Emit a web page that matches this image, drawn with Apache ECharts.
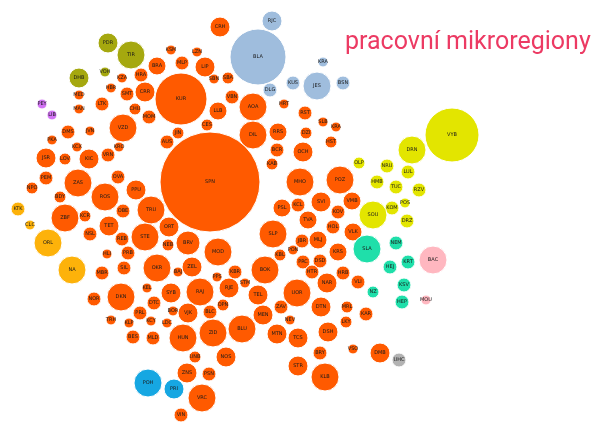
<!DOCTYPE html>
<html>
<head>
<meta charset="utf-8">
<script src="https://cdn.jsdelivr.net/npm/echarts@6/dist/echarts.min.js"></script>
<style>
  html, body { margin: 0; padding: 0; background: #fff; }
  #chart { width: 594px; height: 422px; }
</style>
</head>
<body>
<div id="chart"></div>
<script>
// pracovni mikroregiony - bubbles [name, x, y, r]
const olive = [
    ['PDR', 108, 43, 10], ['TIR', 131, 55, 14], ['DHB', 79, 78, 10], ['VOH', 105, 72, 5],
];
const violet = [
    ['PEY', 42, 104, 5], ['LIB', 52, 115, 5],
];
const lightBlue = [
    ['RJC', 272, 21, 10], ['BLA', 258, 57, 28], ['KRA', 323, 62, 5], ['KUS', 293, 83, 7],
    ['JES', 317, 86, 14], ['BSN', 343, 83, 7], ['DLG', 270, 90, 7],
];
const yellow = [
    ['VYB', 452, 135, 27], ['DRN', 412, 150, 14], ['OLP', 359, 163, 6], ['NRU', 387, 166, 7],
    ['LUL', 408, 172, 7], ['HMB', 377, 182, 7], ['TUC', 396, 187, 7], ['RZV', 419, 190, 7],
    ['POS', 405, 203, 5], ['KOM', 392, 208, 7], ['DRZ', 407, 221, 7], ['SOU', 373, 215, 14],
];
const amber = [
    ['KTK', 18, 209, 7], ['CLC', 30, 225, 5], ['ORL', 48, 243, 14], ['NA', 72, 270, 14],
];
const teal = [
    ['NEM', 396, 243, 7], ['SLA', 367, 249, 14], ['HEJ', 390, 267, 7], ['KRT', 408, 262, 7],
    ['NZ', 373, 292, 6], ['KSV', 404, 285, 7], ['HEP', 402, 302, 7],
];
const pink = [
    ['BAC', 433, 260, 14], ['MOU', 426, 300, 5],
];
const blue = [
    ['POH', 148, 383, 14], ['PRI', 174, 389, 10],
];
const grey = [
    ['UHC', 399, 360, 7],
];
const orange = [
    ['KSM', 171, 50, 5], ['LZN', 197, 52, 5], ['BRA', 157, 66, 9], ['MLP', 182, 63, 7],
    ['LIP', 205, 67, 10], ['CRH', 220, 27, 10], ['SBN', 214, 79, 5], ['SBA', 228, 78, 6],
    ['KZA', 122, 78, 5], ['HRA', 141, 75, 7], ['HBR', 111, 88, 5], ['SMT', 127, 94, 7],
    ['CRR', 145, 92, 10], ['KUR', 181, 99, 26], ['MED', 79, 95, 5], ['LTK', 102, 104, 7],
    ['CHU', 135, 109, 6], ['MAN', 79, 109, 5], ['MOM', 149, 117, 7], ['VZD', 123, 128, 14],
    ['JIN', 178, 133, 6], ['DMS', 68, 132, 7], ['JVN', 90, 131, 5], ['PKA', 52, 140, 5],
    ['AUS', 167, 142, 7], ['VBN', 232, 97, 7], ['AOA', 253, 107, 14], ['LLB', 218, 111, 9],
    ['CES', 207, 125, 6], ['DIL', 253, 135, 14], ['RRS', 278, 132, 9], ['HRT', 284, 104, 5],
    ['RST', 305, 113, 7], ['SLB', 323, 122, 5], ['KRA', 336, 127, 5], ['DZI', 306, 133, 6],
    ['HST', 331, 142, 6], ['BCR', 277, 150, 7], ['OCH', 303, 152, 10], ['KAB', 272, 164, 6],
    ['SPN', 210, 182, 50], ['MHO', 300, 182, 14], ['POZ', 340, 180, 14], ['PSL', 282, 208, 9],
    ['KCL', 298, 205, 7], ['SVI', 321, 202, 10], ['VMB', 352, 201, 9], ['KOV', 338, 212, 7],
    ['TVA', 308, 220, 9], ['SLP', 273, 234, 14], ['HOL', 333, 227, 7], ['VLK', 353, 232, 9],
    ['JBR', 302, 241, 7], ['MLJ', 318, 240, 9], ['MOD', 218, 252, 14], ['KBL', 280, 255, 6],
    ['PON', 293, 250, 5], ['PRC', 303, 262, 7], ['DSD', 320, 261, 7], ['KRS', 338, 252, 9],
    ['KBR', 235, 272, 7], ['BOK', 265, 270, 14], ['HTR', 312, 272, 7], ['HRB', 343, 273, 7],
    ['JSR', 46, 158, 10], ['LOV', 65, 159, 6], ['KCX', 77, 147, 5], ['KIC', 89, 159, 10],
    ['VRN', 108, 155, 7], ['KRO', 119, 147, 5], ['PEM', 46, 178, 7], ['NPO', 32, 188, 6],
    ['ZAS', 78, 183, 14], ['OVA', 118, 177, 7], ['BDY', 60, 197, 6], ['ROS', 105, 197, 14],
    ['PPU', 136, 190, 10], ['ZBF', 65, 218, 14], ['KCR', 85, 216, 6], ['OBE', 123, 211, 7],
    ['TRU', 151, 210, 14], ['TET', 109, 226, 10], ['ORT', 169, 227, 10], ['NSL', 90, 234, 7],
    ['REB', 122, 239, 7], ['STE', 145, 237, 14], ['NEB', 168, 245, 6], ['BRV', 188, 243, 12],
    ['HLI', 107, 254, 5], ['PRB', 128, 253, 7], ['MBR', 102, 273, 7], ['SIL', 124, 268, 7],
    ['OKR', 157, 268, 14], ['BAJ', 178, 272, 5], ['ZEL', 192, 267, 10], ['DKN', 121, 297, 14],
    ['NOR', 94, 299, 7], ['KEL', 147, 288, 5], ['SYB', 171, 293, 10], ['RAJ', 200, 292, 14],
    ['DTC', 154, 303, 7], ['PRL', 140, 313, 7], ['KCY', 151, 321, 5], ['BOR', 173, 311, 5],
    ['VJK', 188, 313, 10], ['TRH', 111, 320, 5], ['KLP', 129, 323, 5], ['LDC', 167, 323, 5],
    ['BES', 133, 337, 7], ['MLD', 153, 338, 7], ['HUN', 183, 338, 14], ['UNB', 195, 357, 6],
    ['ZNS', 187, 373, 10], ['VRC', 202, 398, 14], ['VIN', 181, 415, 7], ['PPS', 217, 277, 5],
    ['RJE', 229, 288, 10], ['STM', 245, 283, 5], ['TEL', 258, 295, 10], ['UOR', 297, 293, 14],
    ['NAR', 327, 283, 10], ['VLI', 358, 282, 7], ['BLC', 210, 312, 7], ['OPN', 223, 305, 6],
    ['MEN', 263, 315, 10], ['ZAV', 281, 307, 7], ['DTN', 321, 307, 10], ['MRL', 347, 307, 6],
    ['KAR', 366, 314, 7], ['NEV', 290, 320, 5], ['LKY', 346, 322, 6], ['ZID', 213, 333, 14],
    ['BLU', 242, 329, 14], ['MTN', 277, 334, 10], ['TCS', 298, 338, 10], ['DSH', 328, 332, 10],
    ['NOS', 226, 357, 10], ['BRY', 320, 353, 7], ['VSO', 353, 349, 5], ['DMB', 380, 353, 10],
    ['STR', 298, 366, 10], ['KLB', 325, 377, 14], ['PSN', 209, 374, 7],
];

const groups = [
    { data: orange, color: '#ff5a00' },
    { data: lightBlue, color: '#9fbddd' },
    { data: olive, color: '#a5a80f' },
    { data: yellow, color: '#e3e500' },
    { data: amber, color: '#fdb20a' },
    { data: teal, color: '#1fdfaa' },
    { data: pink, color: '#ffb7c0' },
    { data: blue, color: '#16a7e2' },
    { data: violet, color: '#d273f5' },
    { data: grey, color: '#b3b3b3' },
];

var chart = echarts.init(document.getElementById('chart'));

const option = {
    animation: false,
    title: {
        text: 'pracovní mikroregiony',
        left: 340,
        top: 25,
        textStyle: {
            fontFamily: 'Roboto',
            fontWeight: 'normal',
            fontSize: 25,
            color: '#ec3a63'
        }
    },
    grid: { left: 0, right: 0, top: 0, bottom: 0 },
    xAxis: { type: 'value', min: 0, max: 594, show: false },
    yAxis: { type: 'value', min: 0, max: 422, inverse: true, show: false },
    series: groups.map(g => ({
        type: 'scatter',
        data: g.data.map(d => ({ name: d[0], value: [d[1], d[2], d[3]] })),
        symbolSize: v => v[2] * 2,
        itemStyle: {
            color: g.color,
            opacity: 1,
            borderColor: '#fff',
            borderWidth: 1
        },
        label: {
            show: true,
            position: 'inside',
            formatter: '{b}',
            fontSize: 5,
            fontFamily: 'DejaVu Sans',
            color: '#1a1a1a'
        },
        emphasis: { disabled: true }
    }))
};

chart.setOption(option);
</script>
</body>
</html>
